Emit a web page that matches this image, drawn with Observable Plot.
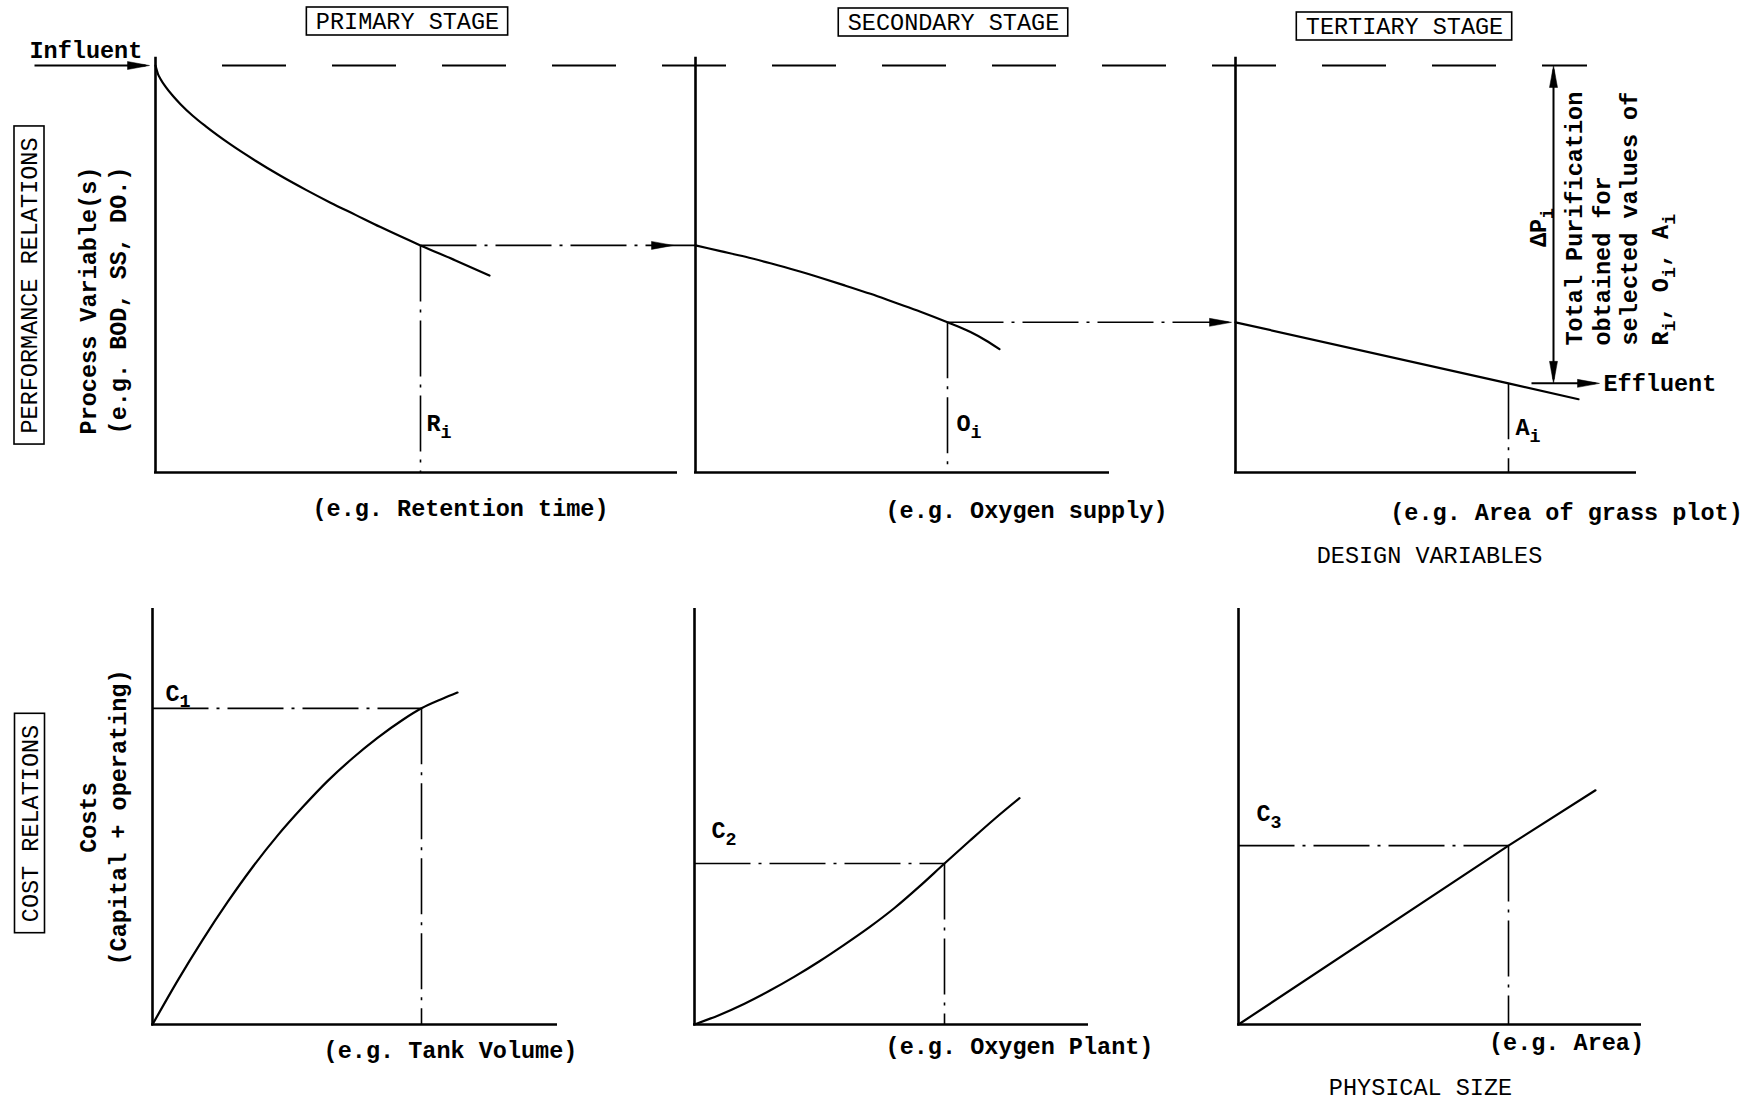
<!DOCTYPE html>
<html><head><meta charset="utf-8">
<script src="https://cdn.jsdelivr.net/npm/d3@7"></script>
<script src="https://cdn.jsdelivr.net/npm/@observablehq/plot@0.6"></script>
<style>
html,body{margin:0;padding:0;background:#fff;}
#chart{width:1757px;height:1102px;overflow:hidden;}
</style></head><body><div id="chart"></div>
<script>
// ---------------- DATA ----------------
const stages = ["PRIMARY STAGE", "SECONDARY STAGE", "TERTIARY STAGE"];
const relations = ["PERFORMANCE RELATIONS", "COST RELATIONS"];
const performanceAxisLabel = ["Process Variable(s)", "(e.g. BOD, SS, DO.)"];
const costAxisLabel = ["Costs", "(Capital + operating)"];
const designVariables = ["(e.g. Retention time)", "(e.g. Oxygen supply)", "(e.g. Area of grass plot)"];
const physicalSizes = ["(e.g. Tank Volume)", "(e.g. Oxygen Plant)", "(e.g. Area)"];
const designTitle = "DESIGN VARIABLES";
const sizeTitle = "PHYSICAL SIZE";
const selectedNames = ["R_i", "O_i", "A_i"];
const costNames = ["C_1", "C_2", "C_3"];
const purificationNote = ["Total Purification", "obtained for", "selected values of", "R_i, O_i, A_i"];
const deltaName = "ΔP_i";
const influentName = "Influent";
const effluentName = "Effluent";

// performance relations: [design variable, process variable] (influent level = 100)
const influentLevel = 100;
const primaryPerformance = [[0,100],[0.5,97.9],[1,96.7],[2,94.8],[3.5,92.5],[5,90.5],[7.5,87.6],[10,85.1],[15,80.6],[20,76.6],[25,72.9],[30,69.5],[35,66.3],[40,63.3],[45,60.3],[53,55.8],[60,52.1],[66.8,48.4]];
const secondaryPerformance = [[0,55.8],[5,54.4],[10,53],[15,51.4],[20,49.7],[25,47.85],[30,45.9],[35,43.9],[40,41.7],[45,39.5],[50.4,36.9],[55,34.5],[58,32.5],[60.8,30.3]];
const tertiaryPerformance = [[0,36.9],[54.6,21.9],[68.6,18]];
const selectedDesign = [53, 50.4, 54.6];
const selectedLevel = [55.8, 36.9, 21.9];

// cost relations: [physical size, cost]
const primaryCost = [[0,0],[5,10.5],[10,20.3],[15,29.4],[20,37.8],[25,45.4],[30,52.2],[35,58.5],[40,64],[45,68.9],[50,73.2],[53.8,76],[58,78.3],[61,79.8]];
const secondaryCost = [[0,0],[5,2.3],[10,5],[15,8.1],[20,11.5],[25,15.2],[30,19.2],[35,23.4],[40,28],[45,33.2],[50,38.7],[55,44.1],[60,49.4],[65,54.4]];
const tertiaryCost = [[0,0],[54,43],[71.4,56.3]];
const selectedSize = [53.8, 50, 54];
const selectedCost = [76, 38.7, 43];

const performanceAxisLength = [104.4, 82.8, 80.2];
const costAxisLength = [81, 78.8, 80.6];

// ---------------- LAYOUT ----------------
const W = 1757, H = 1102;
const FONT = "Liberation Mono, Courier New, monospace";
const FS = 23.5;
const unit = 5;
const colX = {perf: [155, 695, 1235], cost: [152, 694, 1238]};
const rowBase = {perf: 472, cost: 1024};
const rowUnit = {perf: 4.07, cost: 4.16};
const axisTop = {perf: 102, cost: 100};
const X = (row, col, d) => colX[row][col] + d * unit;
const Y = (row, v) => rowBase[row] - v * rowUnit[row];

const layout = {
  stageLabel: [[407, 21], [953, 22], [1404, 26]],
  relationLabel: [[29, 285], [29.5, 823]],
  axisLabelX: [88, 118],
  axisLabelY: [300, 817],
  designLabel: [[460, 508], [1026, 510], [1566, 512]],
  designTitle: [1429, 555],
  sizeLabel: [[450, 1050], [1019, 1046], [1566, 1042]],
  sizeTitle: [1420, 1087],
  influentText: [29, 50],
  selectedLabel: [[1.2, 12], [1.8, 12], [1.4, 11]],   // offset in design units, level
  costLabel: [[2.6, 79.6], [3.4, 46.6], [3.6, 50.7]], // size, cost
  connectorTip: [-4.4, -0.8],
  influentArrow: [-24.2, -1.2],
  effluentArrow: [59.2, 72.8],
  effluentText: 73.6,
  deltaX: 63.6,
  deltaText: [60.6, 60.2],
  noteX: [67.8, 73.4, 78.8, 85],
  noteStart: 31.2,
  influentDash: [13.4, 70.4]
};

// ---------------- BUILD ----------------
const curvePts = [], straightPts = [];
[primaryPerformance, secondaryPerformance].forEach((c, col) =>
  c.forEach(([d, v]) => curvePts.push({panel: "p" + col, x: X("perf", col, d), y: Y("perf", v)})));
[primaryCost, secondaryCost].forEach((c, col) =>
  c.forEach(([d, v]) => curvePts.push({panel: "c" + col, x: X("cost", col, d), y: Y("cost", v)})));
tertiaryPerformance.forEach(([d, v]) => straightPts.push({panel: "p2", x: X("perf", 2, d), y: Y("perf", v)}));
tertiaryCost.forEach(([d, v]) => straightPts.push({panel: "c2", x: X("cost", 2, d), y: Y("cost", v)}));

const yAxes = [], xAxes = [], dashDot = [], solid = [];
[0, 1, 2].forEach(col => {
  yAxes.push({x: X("perf", col, 0), y1: Y("perf", 0), y2: Y("perf", axisTop.perf)});
  yAxes.push({x: X("cost", col, 0), y1: Y("cost", 0), y2: Y("cost", axisTop.cost)});
  xAxes.push({y: Y("perf", 0), x1: X("perf", col, 0) - 1, x2: X("perf", col, performanceAxisLength[col])});
  xAxes.push({y: Y("cost", 0), x1: X("cost", col, 0) - 1, x2: X("cost", col, costAxisLength[col])});
  const xs = X("perf", col, selectedDesign[col]), ys = Y("perf", selectedLevel[col]);
  dashDot.push({x1: xs, y1: ys, x2: xs, y2: Y("perf", 0)});
  if (col < 2) dashDot.push({x1: xs, y1: ys, x2: X("perf", col + 1, 0), y2: ys});
  const xc = X("cost", col, selectedSize[col]), yc = Y("cost", selectedCost[col]);
  dashDot.push({x1: X("cost", col, 0), y1: yc, x2: xc, y2: yc});
  dashDot.push({x1: xc, y1: yc, x2: xc, y2: Y("cost", 0)});
});
const yIn = Y("perf", influentLevel), yOut = Y("perf", selectedLevel[2]);
solid.push({x1: X("perf", 0, layout.influentArrow[0]), y1: yIn, x2: X("perf", 0, layout.influentArrow[1]) - 4, y2: yIn});
solid.push({x1: X("perf", 2, layout.effluentArrow[0]), y1: yOut, x2: X("perf", 2, layout.effluentArrow[1]) - 4, y2: yOut});
solid.push({x1: X("perf", 2, layout.deltaX), y1: yIn + 4, x2: X("perf", 2, layout.deltaX), y2: yOut - 4});

const rightTips = [
  {x: X("perf", 1, layout.connectorTip[0]), y: Y("perf", selectedLevel[0])},
  {x: X("perf", 2, layout.connectorTip[1]), y: Y("perf", selectedLevel[1])},
  {x: X("perf", 0, layout.influentArrow[1]), y: yIn},
  {x: X("perf", 2, layout.effluentArrow[1]), y: yOut}
];
const upTips = [{x: X("perf", 2, layout.deltaX), y: yIn}];
const downTips = [{x: X("perf", 2, layout.deltaX), y: yOut}];
const influentRule = [{y: yIn, x1: X("perf", 0, layout.influentDash[0]), x2: X("perf", 2, layout.influentDash[1])}];

const headRight = {draw(c) { c.moveTo(0, 0); c.lineTo(-22, -4); c.lineTo(-22, 4); c.closePath(); }};
const headUp = {draw(c) { c.moveTo(0, 0); c.lineTo(-4, 22); c.lineTo(4, 22); c.closePath(); }};
const headDown = {draw(c) { c.moveTo(0, 0); c.lineTo(-4, -22); c.lineTo(4, -22); c.closePath(); }};

// texts
const cw = FS * 0.6;
const stageTexts = stages.map((s, i) => ({label: s, x: layout.stageLabel[i][0], y: layout.stageLabel[i][1]}));
const stageBoxes = stageTexts.map(d => { const w = d.label.length * cw + 18; return {x1: d.x - w / 2, x2: d.x + w / 2, y1: d.y - 14, y2: d.y + 14}; });
const relTexts = relations.map((s, i) => ({label: s, x: layout.relationLabel[i][0], y: layout.relationLabel[i][1]}));
const relBoxes = relTexts.map(d => { const h = d.label.length * cw + 22; return {x1: d.x - 15, x2: d.x + 15, y1: d.y - h / 2, y2: d.y + h / 2}; });
const axisTexts = [
  ...performanceAxisLabel.map((s, i) => ({label: s, x: layout.axisLabelX[i], y: layout.axisLabelY[0]})),
  ...costAxisLabel.map((s, i) => ({label: s, x: layout.axisLabelX[i], y: layout.axisLabelY[1]}))
];
const bottomTexts = [
  ...designVariables.map((s, i) => ({label: s, x: layout.designLabel[i][0], y: layout.designLabel[i][1]})),
  ...physicalSizes.map((s, i) => ({label: s, x: layout.sizeLabel[i][0], y: layout.sizeLabel[i][1]})),
];
const titleTexts = [
  {label: designTitle, x: layout.designTitle[0], y: layout.designTitle[1]},
  {label: sizeTitle, x: layout.sizeTitle[0], y: layout.sizeTitle[1]}
];
const startTexts = [
  {label: influentName, x: layout.influentText[0], y: layout.influentText[1]},
  {label: effluentName, x: X("perf", 2, layout.effluentText), y: yOut},
  ...selectedNames.map((s, i) => ({label: s, x: X("perf", i, selectedDesign[i] + layout.selectedLabel[i][0]), y: Y("perf", layout.selectedLabel[i][1])})),
  ...costNames.map((s, i) => ({label: s, x: X("cost", i, layout.costLabel[i][0]), y: Y("cost", layout.costLabel[i][1])}))
];
const noteTexts = purificationNote.map((s, i) => ({label: s, x: X("perf", 2, layout.noteX[i]), y: Y("perf", layout.noteStart)}));
const deltaText = [{label: deltaName, x: X("perf", 2, layout.deltaText[0]), y: Y("perf", layout.deltaText[1])}];

const txt = {fontFamily: FONT, fontSize: FS, fill: "black", lineAnchor: "middle"};

const chart = Plot.plot({
  width: W, height: H, margin: 0,
  x: {domain: [0, W], range: [0, W], axis: null},
  y: {domain: [0, H], range: [0, H], axis: null},
  style: {background: "white", overflow: "visible", fontFamily: FONT},
  marks: [
    Plot.ruleY(influentRule, {y: "y", x1: "x1", x2: "x2", stroke: "black", strokeWidth: 2, strokeDasharray: "64,46"}),
    Plot.link(dashDot, {x1: "x1", y1: "y1", x2: "x2", y2: "y2", stroke: "black", strokeWidth: 1.6, strokeDasharray: "56,8,3,8"}),
    Plot.link(solid, {x1: "x1", y1: "y1", x2: "x2", y2: "y2", stroke: "black", strokeWidth: 2}),
    Plot.ruleX(yAxes, {x: "x", y1: "y1", y2: "y2", stroke: "black", strokeWidth: 2.6}),
    Plot.ruleY(xAxes, {y: "y", x1: "x1", x2: "x2", stroke: "black", strokeWidth: 2.6}),
    Plot.line(curvePts, {x: "x", y: "y", z: "panel", curve: "monotone-x", stroke: "black", strokeWidth: 2.2}),
    Plot.line(straightPts, {x: "x", y: "y", z: "panel", curve: "linear", stroke: "black", strokeWidth: 2.2}),
    Plot.dot(rightTips, {x: "x", y: "y", symbol: headRight, fill: "black", stroke: "black", strokeWidth: 0.5}),
    Plot.dot(upTips, {x: "x", y: "y", symbol: headUp, fill: "black", stroke: "black", strokeWidth: 0.5}),
    Plot.dot(downTips, {x: "x", y: "y", symbol: headDown, fill: "black", stroke: "black", strokeWidth: 0.5}),
    Plot.rect(stageBoxes, {x1: "x1", x2: "x2", y1: "y1", y2: "y2", fill: "none", stroke: "black", strokeWidth: 1.6}),
    Plot.rect(relBoxes, {x1: "x1", x2: "x2", y1: "y1", y2: "y2", fill: "none", stroke: "black", strokeWidth: 1.6}),
    Plot.text(stageTexts, {x: "x", y: "y", text: "label", ...txt}),
    Plot.text(relTexts, {x: "x", y: "y", text: "label", rotate: -90, ...txt}),
    Plot.text(titleTexts, {x: "x", y: "y", text: "label", ...txt}),
    Plot.text(axisTexts, {x: "x", y: "y", text: "label", rotate: -90, ...txt, fontWeight: "bold"}),
    Plot.text(bottomTexts, {x: "x", y: "y", text: "label", ...txt, fontWeight: "bold"}),
    Plot.text(startTexts, {x: "x", y: "y", text: "label", textAnchor: "start", ...txt, fontWeight: "bold"}),
    Plot.text(noteTexts, {x: "x", y: "y", text: "label", textAnchor: "start", rotate: -90, ...txt, fontWeight: "bold"}),
    Plot.text(deltaText, {x: "x", y: "y", text: "label", rotate: -90, ...txt, fontWeight: "bold"})
  ]
});
document.getElementById("chart").appendChild(chart);

// subscripts: "X_i" -> X with lowered small i
const NS = "http://www.w3.org/2000/svg";
chart.querySelectorAll("text").forEach(t => {
  const s = t.textContent;
  if (!s.includes("_")) return;
  const parts = s.split(/_(\w)/);
  while (t.firstChild) t.removeChild(t.firstChild);
  let shifted = false;
  const sub = FS * 0.78, shift = FS * 0.28;
  parts.forEach((p, i) => {
    if (!p) return;
    const ts = document.createElementNS(NS, "tspan");
    ts.textContent = p;
    if (i % 2 === 1) { ts.setAttribute("font-size", sub); ts.setAttribute("dy", shift); shifted = true; }
    else if (shifted) { ts.setAttribute("dy", -shift); shifted = false; }
    t.appendChild(ts);
  });
});
</script></body></html>
